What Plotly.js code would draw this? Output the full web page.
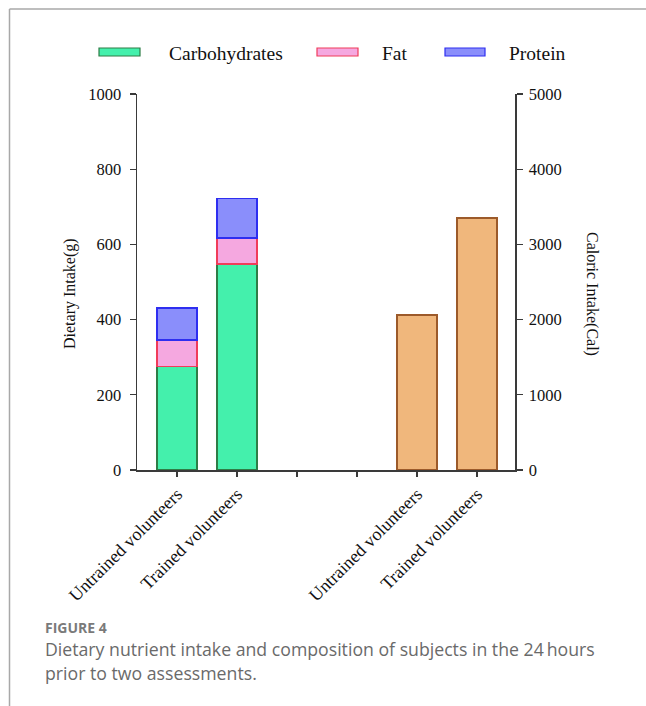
<!DOCTYPE html>
<html>
<head>
<meta charset="utf-8">
<script src="https://cdn.plot.ly/plotly-3.0.1.min.js"></script>
<style>
html,body{margin:0;padding:0;background:#fff;}
#chart{width:646px;height:706px;}
</style>
</head>
<body>
<div id="chart"></div>
<script>
// ---- data ----
const categories = ['Untrained volunteers', 'Trained volunteers', '', '', 'Untrained volunteers', 'Trained volunteers'];
const nutrientPositions = [0, 1];
const caloricPositions = [4, 5];
const carbohydrates = [276, 548];
const fat = [70, 69];
const protein = [85, 106];
const caloricIntake = [2060, 3350];
const seriesNames = ['Carbohydrates', 'Fat', 'Protein'];
const leftTicks = [0, 200, 400, 600, 800, 1000];
const rightTicks = [0, 1000, 2000, 3000, 4000, 5000];

// ---- layout helpers (pixel -> paper) ----
const W = 646, H = 706;
const L = 137, R = 515, T = 94, B = 470;
const px = v => (v - L) / (R - L);
const py = v => (B - v) / (B - T);

const serif = '"Liberation Serif", "Times New Roman", serif';
const axisColor = '#3a3a3a';

const colors = {
  carb: {fill: '#44F0AC', line: '#2E7D46'},
  fat: {fill: '#F5A8E0', line: '#F03C5A'},
  protein: {fill: '#8A8EFB', line: '#2E2EF0'},
  cal: {fill: '#F0B77C', line: '#9C5A2A'}
};

const traces = [
  {type: 'bar', x: nutrientPositions, y: carbohydrates, name: seriesNames[0],
   marker: {color: colors.carb.fill, line: {color: colors.carb.line, width: 1.2}}, xaxis: 'x', yaxis: 'y', showlegend: false},
  {type: 'bar', x: nutrientPositions, y: fat, name: seriesNames[1],
   marker: {color: colors.fat.fill, line: {color: colors.fat.line, width: 1.2}}, xaxis: 'x', yaxis: 'y', showlegend: false},
  {type: 'bar', x: nutrientPositions, y: protein, name: seriesNames[2],
   marker: {color: colors.protein.fill, line: {color: colors.protein.line, width: 1.2}}, xaxis: 'x', yaxis: 'y', showlegend: false},
  {type: 'bar', x: caloricPositions, y: caloricIntake, name: 'Caloric intake',
   marker: {color: colors.cal.fill, line: {color: colors.cal.line, width: 1.2}}, xaxis: 'x', yaxis: 'y2', showlegend: false}
];

const shapes = [
  // figure frame (top and left)
  {type: 'line', xref: 'paper', yref: 'paper', x0: px(9.5), x1: px(646), y0: py(9), y1: py(9), line: {color: '#a8a8a8', width: 1.5}},
  {type: 'line', xref: 'paper', yref: 'paper', x0: px(9.5), x1: px(9.5), y0: py(9), y1: py(706), line: {color: '#a8a8a8', width: 1.5}}
];
const annotations = [];

// custom legend (wide swatches)
const legendItems = [
  {name: seriesNames[0], c: colors.carb, x0: 99, x1: 140, tx: 167},
  {name: seriesNames[1], c: colors.fat, x0: 317, x1: 358, tx: 380},
  {name: seriesNames[2], c: colors.protein, x0: 445, x1: 485, tx: 507}
];
legendItems.forEach(it => {
  shapes.push({type: 'rect', xref: 'paper', yref: 'paper', x0: px(it.x0), x1: px(it.x1), y0: py(56), y1: py(48),
    fillcolor: it.c.fill, line: {color: it.c.line, width: 1.2}});
  annotations.push({xref: 'paper', yref: 'paper', x: px(it.tx), y: py(53), xanchor: 'left', yanchor: 'middle',
    text: it.name, showarrow: false, font: {family: serif, size: 19.5, color: '#111'}});
});

// axis titles
annotations.push({xref: 'paper', yref: 'paper', x: px(70), y: py(294), xanchor: 'center', yanchor: 'middle',
  text: 'Dietary Intake(g)', textangle: -90, showarrow: false, font: {family: serif, size: 16, color: '#111'}});
annotations.push({xref: 'paper', yref: 'paper', x: px(592), y: py(294), xanchor: 'center', yanchor: 'middle',
  text: 'Caloric Intake(Cal)', textangle: 90, showarrow: false, font: {family: serif, size: 16, color: '#111'}});

// caption
const sans = '"Open Sans", "Noto Sans", sans-serif';
annotations.push({xref: 'paper', yref: 'paper', x: px(43), y: py(627), xanchor: 'left', yanchor: 'middle',
  text: '<b>FIGURE 4</b>', showarrow: false, font: {family: sans, size: 14, color: '#7a7a7a'}});
annotations.push({xref: 'paper', yref: 'paper', x: px(43), y: py(649), xanchor: 'left', yanchor: 'middle',
  text: 'Dietary nutrient intake and composition of subjects in the 24\u2009hours', showarrow: false,
  font: {family: sans, size: 17.7, color: '#6a6a6a'}});
annotations.push({xref: 'paper', yref: 'paper', x: px(43), y: py(673), xanchor: 'left', yanchor: 'middle',
  text: 'prior to two assessments.', showarrow: false,
  font: {family: sans, size: 17.7, color: '#6a6a6a'}});

const layout = {
  width: W, height: H,
  margin: {l: L, r: W - R, t: T, b: H - B, pad: 0},
  paper_bgcolor: '#fff', plot_bgcolor: '#fff',
  barmode: 'stack', bargap: 0.333,
  showlegend: false,
  xaxis: {
    range: [-0.667, 5.633], tickmode: 'array', tickvals: categories.map((c, i) => i), ticktext: categories,
    tickangle: -45, ticks: 'outside', ticklen: 5, tickcolor: axisColor, tickwidth: 1.2,
    showline: true, linecolor: axisColor, linewidth: 1.5, showgrid: false, zeroline: false,
    tickfont: {family: serif, size: 18, color: '#111'}, fixedrange: true
  },
  yaxis: {
    range: [0, 1000], tickmode: 'array', tickvals: leftTicks, ticks: 'outside', ticklen: 6,
    tickcolor: axisColor, tickwidth: 1.2, showline: true, linecolor: axisColor, linewidth: 1.5,
    showgrid: false, zeroline: false, tickfont: {family: serif, size: 16.5, color: '#111'},
    ticklabelstandoff: 5
  },
  yaxis2: {
    overlaying: 'y', side: 'right', range: [0, 5000], tickmode: 'array', tickvals: rightTicks,
    ticks: 'outside', ticklen: 6, tickcolor: axisColor, tickwidth: 1.2, showline: true,
    linecolor: axisColor, linewidth: 1.5, showgrid: false, zeroline: false,
    tickfont: {family: serif, size: 16.5, color: '#111'}, ticklabelstandoff: 3
  },
  shapes: shapes,
  annotations: annotations
};

Plotly.newPlot('chart', traces, layout, {displayModeBar: false, staticPlot: true});
</script>
</body>
</html>
